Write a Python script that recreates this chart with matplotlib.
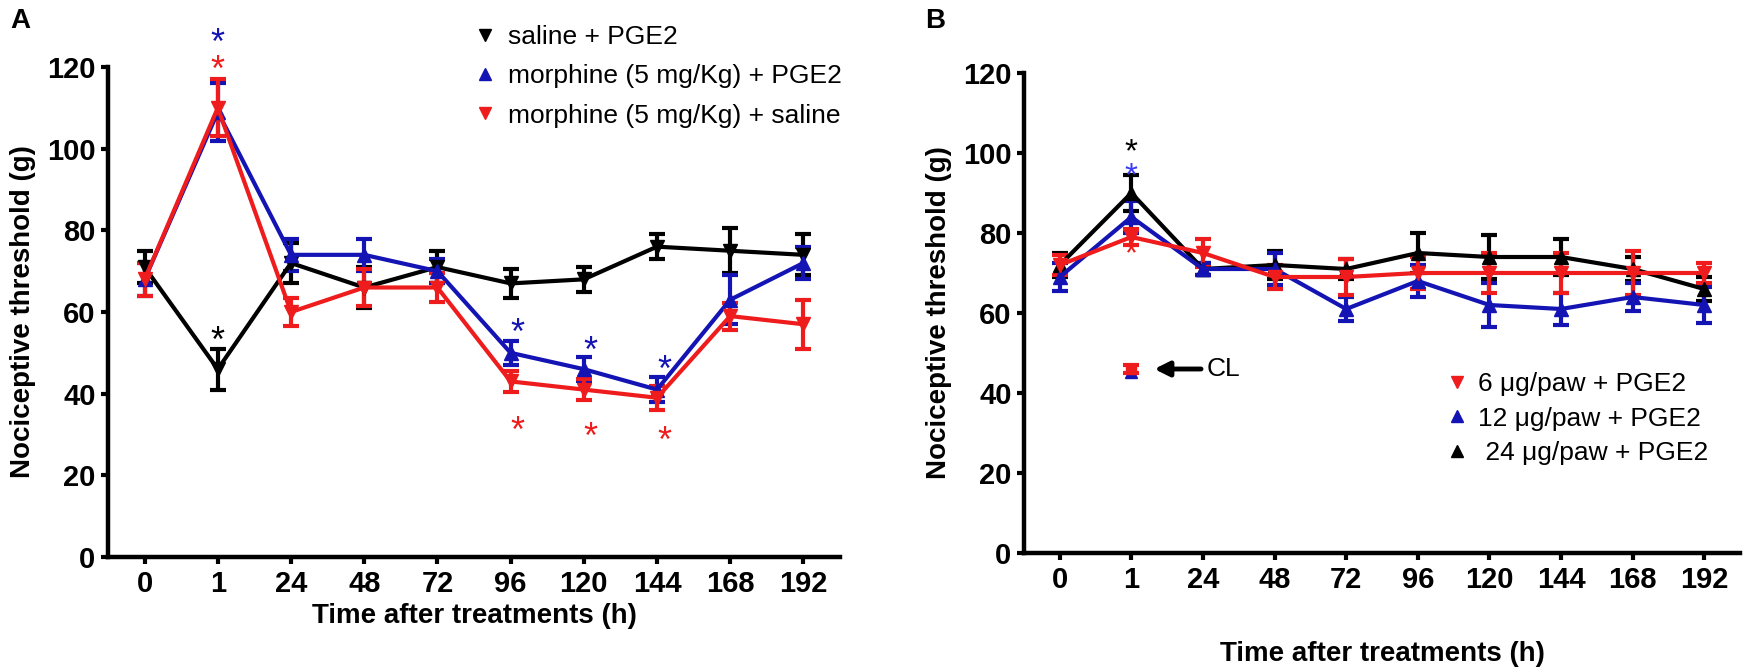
import matplotlib
matplotlib.use('Agg')
import matplotlib.pyplot as plt
from matplotlib.lines import Line2D

plt.rcParams['font.family'] = ['Liberation Sans', 'DejaVu Sans']
plt.rcParams['mathtext.fontset'] = 'custom'
plt.rcParams['mathtext.rm'] = 'Liberation Sans'
plt.rcParams['mathtext.it'] = 'Liberation Sans'

# tempi (h) - asse categorico
tempi = ['0', '1', '24', '48', '72', '96', '120', '144', '168', '192']

# Pannello A
sal_pge2 = [71, 46, 72, 66, 71, 67, 68, 76, 75, 74]
sal_pge2_err = [4, 5, 5, 5, 4, 3.5, 3, 3, 5.5, 5]
mor_pge2 = [68, 109, 74, 74, 70, 50, 46, 41, 63, 72]
mor_pge2_err = [4, 7, 4, 4, 3, 3, 3, 3, 6, 4]
mor_sal = [68, 110, 60, 66, 66, 43, 41, 39, 59, 57]
mor_sal_err = [4, 7, 3.5, 4.5, 3.5, 2.5, 2.5, 3, 3.3, 6]

# asterischi pannello A: (indice tempo, y, colore)
stelle_A = [(1, 55.5, 'black'), (1, 128.5, 'blue'), (1, 122, 'red'),
            (5, 57.5, 'blue'), (6, 53, 'blue'), (7, 48.5, 'blue'),
            (5, 33.5, 'red'), (6, 32, 'red'), (7, 31, 'red')]

# Pannello B
d6 = [72, 79, 75, 69, 69, 70, 70, 70, 70, 70]
d6_err = [2.5, 2, 3.5, 3, 4.5, 4, 5, 5, 5.5, 2.5]
d12 = [69, 84, 71, 71, 61, 68, 62, 61, 64, 62]
d12_err = [3.5, 4, 1.5, 4, 3, 4, 5.5, 4, 3.5, 4.5]
d24 = [72, 90, 71, 72, 71, 75, 74, 74, 71, 66]
d24_err = [3, 4.5, 1.5, 3.5, 2.5, 5, 5.5, 4.5, 3, 3]

stelle_B = [(1, 103, 'black'), (1, 97, 'lightblue'), (1, 77.5, 'red')]

# punto CL
cl_x = 1
cl_y = 46
cl_err = 1

colori = {'black': 'black', 'blue': '#1414b4', 'red': '#ee1c1c', 'lightblue': '#3c3cf0'}

fig = plt.figure(figsize=(17.5, 6.67), dpi=100)
W, H = 1750, 667
axA = fig.add_axes([108 / W, 1 - 557 / H, (840 - 108) / W, (557 - 67) / H])
axB = fig.add_axes([1024 / W, 1 - 553 / H, (1740 - 1024) / W, (553 - 73) / H])

x = list(range(len(tempi)))


def serie(ax, y, err, colore, marker):
    ax.errorbar(x, y, yerr=err, color=colore, lw=3, elinewidth=3, capsize=6,
                capthick=3, marker=marker, ms=10, clip_on=False)


def stella(ax, xi, yi, colore, fs=26):
    # baseline spostata in modo che il centro del glifo cada su yi
    ax.annotate(r'$*$', (xi, yi), xytext=(0, -0.575 * fs), textcoords='offset points',
                ha='center', va='baseline', fontsize=fs, color=colori[colore],
                annotation_clip=False)


serie(axA, sal_pge2, sal_pge2_err, colori['black'], 'v')
serie(axA, mor_pge2, mor_pge2_err, colori['blue'], '^')
serie(axA, mor_sal, mor_sal_err, colori['red'], 'v')
for xi, yi, c in stelle_A:
    dx = 0.1 if xi > 1 else 0
    stella(axA, xi + dx, yi, c)

serie(axB, d24, d24_err, colori['black'], '^')
serie(axB, d12, d12_err, colori['blue'], '^')
serie(axB, d6, d6_err, colori['red'], 'v')
for xi, yi, c in stelle_B:
    stella(axB, xi, yi, c, fs=24)

# CL
axB.plot([cl_x], [cl_y - 0.7], marker='^', ms=9, color=colori['blue'], ls='none')
axB.errorbar([cl_x], [cl_y], yerr=cl_err, color=colori['red'], lw=3, elinewidth=3,
             capsize=6, capthick=3, marker='s', ms=7)
axB.annotate('CL', xy=(cl_x + 0.32, cl_y), xytext=(cl_x + 1.05, cl_y),
             ha='left', va='center', fontsize=19,
             arrowprops=dict(arrowstyle='-|>', lw=3.5, color='black',
                             mutation_scale=22, shrinkA=2, shrinkB=0))

for ax in (axA, axB):
    ax.set_xlim(-0.5, 9.5)
    ax.set_ylim(0, 120)
    ax.set_yticks(range(0, 121, 20))
    ax.set_xticks(x)
    ax.set_xticklabels(tempi)
    for s in ('top', 'right'):
        ax.spines[s].set_visible(False)
    for s in ('left', 'bottom'):
        ax.spines[s].set_linewidth(3.2)
    ax.tick_params(width=3, length=5, labelsize=21, pad=4)
    for lab in ax.get_xticklabels() + ax.get_yticklabels():
        lab.set_fontweight('bold')
    ax.set_ylabel('Nociceptive threshold (g)', fontsize=20, fontweight='bold')
    ax.set_xlabel('Time after treatments (h)', fontsize=20, fontweight='bold')

axA.xaxis.labelpad = 4
axB.xaxis.labelpad = 34
axA.yaxis.labelpad = 8
axB.yaxis.labelpad = 8

# legende
hA = [Line2D([], [], ls='none', marker='v', ms=9, color=colori['black']),
      Line2D([], [], ls='none', marker='^', ms=9, color=colori['blue']),
      Line2D([], [], ls='none', marker='v', ms=9, color=colori['red'])]
axA.legend(hA, ['saline + PGE2', 'morphine (5 mg/Kg) + PGE2', 'morphine (5 mg/Kg) + saline'],
           loc='upper left', bbox_to_anchor=(474 / W, 1 - 25 / H),
           bbox_transform=fig.transFigure, frameon=False, fontsize=19,
           handlelength=0.8, handletextpad=0.5, labelspacing=0.58, borderpad=0,
           borderaxespad=0)

hB = [Line2D([], [], ls='none', marker='v', ms=9, color=colori['red']),
      Line2D([], [], ls='none', marker='^', ms=9, color=colori['blue']),
      Line2D([], [], ls='none', marker='^', ms=9, color=colori['black'])]
axB.legend(hB, ['6 \u03bcg/paw + PGE2', '12 \u03bcg/paw + PGE2', ' 24 \u03bcg/paw + PGE2'],
           loc='upper left', bbox_to_anchor=(1446 / W, 1 - 372 / H),
           bbox_transform=fig.transFigure, frameon=False, fontsize=19,
           handlelength=0.8, handletextpad=0.4, labelspacing=0.4, borderpad=0,
           borderaxespad=0)

fig.text(10 / W, 1 - 28 / H, 'A', fontsize=20, fontweight='bold', va='baseline')
fig.text(925 / W, 1 - 28 / H, 'B', fontsize=20, fontweight='bold', va='baseline')

fig.savefig('out.png', dpi=100)
